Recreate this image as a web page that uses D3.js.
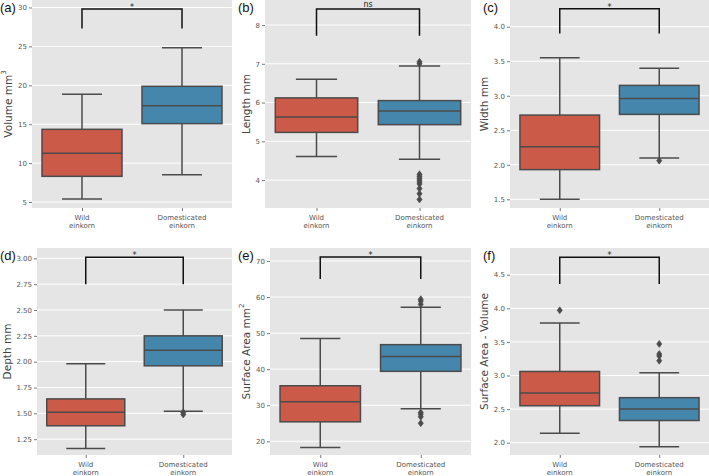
<!DOCTYPE html>
<html><head><meta charset="utf-8">
<script src="https://cdn.jsdelivr.net/npm/d3@7"></script>
<style>body{margin:0;background:#fff} svg{display:block}</style>
</head><body>
<svg id="chart" width="709" height="476"></svg>
<script>
// ---------- DATA ----------
const categories = ["Wild einkorn", "Domesticated einkorn"];
const categoryLines = [["Wild", "einkorn"], ["Domesticated", "einkorn"]];
const panelLabels = ["(a)", "(b)", "(c)", "(d)", "(e)", "(f)"];
const yTitles = ["Volume mm", "Length mm", "Width mm", "Depth mm", "Surface Area mm", "Surface Area - Volume"];
const yTitleSup = ["3", "", "", "", "2", ""];
const sigLabels = ["*", "ns", "*", "*", "*", "*"];

// box stats per group: [lower whisker, Q1, median, Q3, upper whisker]
const volumeStats = [[5.4, 8.3, 11.26, 14.34, 18.84], [8.5, 15.07, 17.38, 19.87, 24.83]];
const lengthStats = [[4.61, 5.23, 5.63, 6.12, 6.60], [4.54, 5.43, 5.78, 6.05, 6.94]];
const widthStats  = [[1.50, 1.93, 2.26, 2.72, 3.55], [2.10, 2.73, 2.96, 3.15, 3.40]];
const depthStats  = [[1.16, 1.38, 1.51, 1.64, 1.98], [1.52, 1.96, 2.11, 2.25, 2.50]];
const areaStats   = [[18.3, 25.4, 31.0, 35.4, 48.5], [29.0, 39.4, 43.5, 46.8, 57.2]];
const ratioStats  = [[2.14, 2.55, 2.74, 3.06, 3.78], [1.94, 2.33, 2.50, 2.67, 3.04]];

// outliers per group
const volumeOutliers = [[], []];
const lengthOutliers = [[], [7.0, 7.05, 4.15, 4.1, 4.05, 4.0, 3.95, 3.9, 3.78, 3.65, 3.5]];
const widthOutliers  = [[], [2.06]];
const depthOutliers  = [[], [1.51, 1.49]];
const areaOutliers   = [[], [59.4, 58.9, 58.0, 28.0, 27.5, 26.8, 25.0]];
const ratioOutliers  = [[3.97], [3.47, 3.32, 3.29, 3.22]];

// y ticks
const volumeTicks = [5, 10, 15, 20, 25, 30];
const lengthTicks = [4, 5, 6, 7, 8];
const widthTicks  = [1.5, 2.0, 2.5, 3.0, 3.5, 4.0];
const depthTicks  = [1.25, 1.50, 1.75, 2.00, 2.25, 2.50, 2.75, 3.00];
const areaTicks   = [20, 30, 40, 50, 60, 70];
const ratioTicks  = [2.0, 2.5, 3.0, 3.5, 4.0, 4.5];

// significance brackets: [leg bottom, bar top]
const volumeBracket = [27.3, 29.8];
const lengthBracket = [7.72, 8.41];
const widthBracket  = [3.90, 4.26];
const depthBracket  = [2.75, 3.01];
const areaBracket   = [65.0, 71.1];
const ratioBracket  = [4.36, 4.76];

// ---------- LAYOUT ----------
const panels = [
  {stats: volumeStats, out: volumeOutliers, ticks: volumeTicks, br: volumeBracket, fmt: "d",   dom: [4.23, 30.96], x0: 32,  x1: 232, y0: 0,   y1: 208, tx: 8,   lx: 0,   ly: 12},
  {stats: lengthStats, out: lengthOutliers, ticks: lengthTicks, br: lengthBracket, fmt: "d",   dom: [3.28, 8.645], x0: 265, x1: 471, y0: 0,   y1: 208, tx: 246, lx: 238, ly: 12},
  {stats: widthStats,  out: widthOutliers,  ticks: widthTicks,  br: widthBracket,  fmt: ".1f", dom: [1.374, 4.387], x0: 510, x1: 709, y0: 0,  y1: 208, tx: 484, lx: 483, ly: 12},
  {stats: depthStats,  out: depthOutliers,  ticks: depthTicks,  br: depthBracket,  fmt: ".2f", dom: [1.097, 3.10], x0: 37,  x1: 232, y0: 248, y1: 455, tx: 7,   lx: 0,   ly: 260},
  {stats: areaStats,   out: areaOutliers,   ticks: areaTicks,   br: areaBracket,   fmt: "d",   dom: [16.2, 73.6],  x0: 270, x1: 471, y0: 248, y1: 455, tx: 246, lx: 238, ly: 260},
  {stats: ratioStats,  out: ratioOutliers,  ticks: ratioTicks,  br: ratioBracket,  fmt: ".1f", dom: [1.817, 4.897], x0: 510, x1: 709, y0: 248, y1: 455, tx: 484, lx: 483, ly: 260}
];

const fillColors = ["#CC5A49", "#4586AC"];
const edge = "#4b4b4b";
const tickColor = "#555";
const svg = d3.select("#chart");

panels.forEach((p, i) => {
  const g = svg.append("g");
  const x = d3.scalePoint().domain(categories).range([p.x0, p.x1]).padding(0.5);
  const y = d3.scaleLinear().domain(p.dom).range([p.y1, p.y0]);
  const bw = x.step() * 0.8;

  g.append("rect").attr("x", p.x0).attr("y", p.y0)
    .attr("width", p.x1 - p.x0).attr("height", p.y1 - p.y0).attr("fill", "#E5E5E5");

  // gridlines
  g.selectAll(".grid").data(p.ticks).join("line")
    .attr("x1", p.x0).attr("x2", p.x1)
    .attr("y1", d => y(d)).attr("y2", d => y(d))
    .attr("stroke", "#fff").attr("stroke-width", 1);

  // y axis
  const yAxis = d3.axisLeft(y).tickValues(p.ticks).tickFormat(d3.format(p.fmt)).tickSize(3).tickPadding(2);
  const ya = g.append("g").attr("transform", `translate(${p.x0},0)`).call(yAxis);
  ya.select(".domain").remove();
  ya.selectAll(".tick line").attr("stroke", tickColor).attr("stroke-width", 0.8);
  ya.selectAll(".tick text").attr("fill", tickColor).style("font-family", "DejaVu Sans").style("font-size", "7px");

  // x axis
  const xAxis = d3.axisBottom(x).tickSize(3).tickFormat("");
  const xa = g.append("g").attr("transform", `translate(0,${p.y1})`).call(xAxis);
  xa.select(".domain").remove();
  xa.selectAll(".tick line").attr("stroke", tickColor).attr("stroke-width", 0.8);
  categories.forEach((c, k) => {
    const t = g.append("text").attr("x", x(c)).attr("y", p.y1 + 11.5)
      .attr("text-anchor", "middle").attr("fill", tickColor)
      .style("font-family", "DejaVu Sans").style("font-size", "7px");
    categoryLines[k].forEach((ln, j) => {
      t.append("tspan").attr("x", x(c)).attr("dy", j === 0 ? 0 : 8).text(ln);
    });
  });

  // boxes
  categories.forEach((c, k) => {
    const s = p.stats[k];
    const cx = x(c);
    const bg = g.append("g");
    bg.append("line").attr("x1", cx).attr("x2", cx).attr("y1", y(s[0])).attr("y2", y(s[1]))
      .attr("stroke", edge).attr("stroke-width", 1.5);
    bg.append("line").attr("x1", cx).attr("x2", cx).attr("y1", y(s[3])).attr("y2", y(s[4]))
      .attr("stroke", edge).attr("stroke-width", 1.5);
    [s[0], s[4]].forEach(v => {
      bg.append("line").attr("x1", cx - bw / 4).attr("x2", cx + bw / 4)
        .attr("y1", y(v)).attr("y2", y(v)).attr("stroke", edge).attr("stroke-width", 1.5);
    });
    bg.append("rect").attr("x", cx - bw / 2).attr("width", bw)
      .attr("y", y(s[3])).attr("height", y(s[1]) - y(s[3]))
      .attr("fill", fillColors[k]).attr("stroke", edge).attr("stroke-width", 1.5);
    bg.append("line").attr("x1", cx - bw / 2).attr("x2", cx + bw / 2)
      .attr("y1", y(s[2])).attr("y2", y(s[2])).attr("stroke", edge).attr("stroke-width", 1.5);
    // outliers (thin diamonds)
    bg.selectAll(".fl").data(p.out[k]).join("path")
      .attr("d", d => `M${cx},${y(d) - 3.5}L${cx + 2.6},${y(d)}L${cx},${y(d) + 3.5}L${cx - 2.6},${y(d)}Z`)
      .attr("fill", edge).attr("stroke", edge).attr("stroke-width", 0.6);
  });

  // significance bracket
  const xa0 = x(categories[0]), xa1 = x(categories[1]);
  g.append("path")
    .attr("d", `M${xa0},${y(p.br[0])}V${y(p.br[1])}H${xa1}V${y(p.br[0])}`)
    .attr("fill", "none").attr("stroke", "#111").attr("stroke-width", 1.5);
  g.append("text").attr("x", (xa0 + xa1) / 2).attr("y", y(p.br[1]) - (sigLabels[i] === "*" ? -1 : 2))
    .attr("text-anchor", "middle").attr("fill", "#222")
    .style("font-family", "DejaVu Sans").style("font-size", "8px").text(sigLabels[i]);

  // y title
  const cy = (p.y0 + p.y1) / 2;
  const tt = g.append("text").attr("transform", `translate(${p.tx},${cy}) rotate(-90)`)
    .attr("text-anchor", "middle").attr("dominant-baseline", "central").attr("fill", "#444")
    .style("font-family", "DejaVu Sans").style("font-size", "10.5px");
  tt.append("tspan").text(yTitles[i]);
  if (yTitleSup[i]) tt.append("tspan").attr("dy", -4).style("font-size", "7px").text(yTitleSup[i]);

  // panel label
  svg.append("text").attr("x", p.lx).attr("y", p.ly).attr("fill", "#111")
    .style("font-family", "Liberation Sans, Arial").style("font-size", "13px").text(panelLabels[i]);
});
</script>
</body></html>
